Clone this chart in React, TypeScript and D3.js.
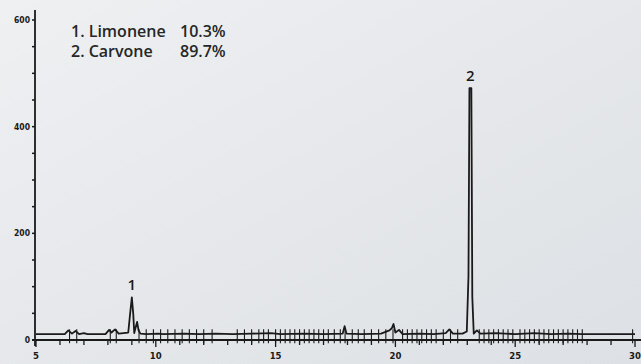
import React from 'react';
import { useRef, useEffect } from 'react';
import * as d3 from 'd3';

// chromatogram trace: [retention time (min), response]
const trace: [number, number][] = [
  [5.0, 11], [5.6, 11], [6.2, 11], [6.35, 18], [6.5, 12], [6.65, 17], [6.8, 11], [7.0, 13], [7.15, 11],
  [7.9, 11], [8.05, 19], [8.15, 14], [8.3, 20], [8.45, 12], [8.65, 13], [8.85, 14], [8.93, 50],
  [9.0, 80], [9.06, 48], [9.1, 13], [9.16, 24], [9.22, 34], [9.28, 18], [9.36, 12], [9.6, 11],
  [10.1, 12], [10.3, 11], [11.2, 12], [11.8, 11], [12.5, 12], [13.2, 11], [14.0, 12], [14.8, 13],
  [15.2, 11], [16.2, 12], [17.0, 11], [17.8, 12], [17.88, 26], [17.96, 12], [18.6, 11], [19.4, 12],
  [19.75, 18], [19.85, 22], [19.92, 30], [20.0, 14], [20.15, 19], [20.3, 11], [21.0, 12], [21.6, 11],
  [22.1, 13], [22.25, 20], [22.4, 12], [22.8, 12], [22.98, 16], [23.05, 120], [23.09, 472],
  [23.17, 472], [23.21, 80], [23.27, 12], [23.4, 18], [23.55, 12], [24.2, 13], [25.0, 11],
  [25.8, 13], [26.5, 11], [27.2, 12], [27.8, 11], [28.5, 11], [29.2, 11], [30.0, 11]
];

// integration marks along the baseline (min)
const marks: number[] = [
  6.4, 6.7, 8.1, 8.35, 9.3, 9.6, 9.9, 10.2, 10.5, 10.8, 11.1, 11.4, 11.7, 12.0, 12.35,
  13.4, 13.7, 14.0, 14.3, 14.5, 14.7, 15.0, 15.2, 15.4, 15.6, 15.8, 16.0, 16.2, 16.4, 16.6,
  16.8, 17.0, 17.2, 17.45, 17.7, 17.9, 18.2, 18.45, 18.7, 19.0, 19.3, 19.6, 19.9, 20.3,
  20.5, 20.7, 20.9, 21.1, 21.3, 21.5, 21.7, 22.0, 22.3, 22.6, 23.5, 23.7, 23.9, 24.1, 24.3,
  24.5, 24.7, 24.9, 25.2, 25.4, 25.6, 25.8, 26.0, 26.2, 26.4, 26.6, 26.8, 27.0, 27.2, 27.4,
  27.6, 27.8, 29.9
];

const peakLabels = [
  { label: '1', time: 9.0, value: 80 },
  { label: '2', time: 23.13, value: 472 }
];

const legend = [
  { name: '1. Limonene', pct: '10.3%' },
  { name: '2. Carvone', pct: '89.7%' }
];

const xTicks = [5, 10, 15, 20, 25, 30];
const yTicks = [0, 200, 400, 600];

export default function App() {
  const svgRef = useRef<SVGSVGElement>(null);

  useEffect(() => {
    const w = 641;
    const h = 364;
    const svg = d3.select(svgRef.current).attr('width', w).attr('height', h);
    svg.selectAll('*').remove();

    // scanned paper background
    const defs = svg.append('defs');
    const grad = defs.append('linearGradient').attr('id', 'paper').attr('x1', 0).attr('y1', 0).attr('x2', 1).attr('y2', 1);
    grad.append('stop').attr('offset', '0%').attr('stop-color', '#eef0f2');
    grad.append('stop').attr('offset', '100%').attr('stop-color', '#dde0e4');
    svg.append('rect').attr('width', w).attr('height', h).attr('fill', 'url(#paper)');

    const x = d3.scaleLinear().domain([5, 30]).range([36, 635]);
    const y = d3.scaleLinear().domain([0, 600]).range([340, 20]);
    const ink = '#1a1a1a';

    // y axis
    svg.append('line').attr('x1', 35).attr('x2', 35).attr('y1', 10).attr('y2', 346)
      .attr('stroke', ink).attr('stroke-width', 1.8);
    const yMinor = d3.range(0, 601, 50);
    svg.selectAll('.ymin').data(yMinor).join('line')
      .attr('x1', 32).attr('x2', 35).attr('y1', (d) => y(d)).attr('y2', (d) => y(d))
      .attr('stroke', ink).attr('stroke-width', 1.5);
    svg.selectAll('.ylab').data(yTicks).join('text')
      .attr('x', 30).attr('y', (d) => y(d) + 3)
      .attr('text-anchor', 'end')
      .style('font-family', 'DejaVu Sans Condensed, sans-serif')
      .style('font-weight', 'bold')
      .style('font-size', '8.5px')
      .attr('fill', ink)
      .text((d) => d);

    // x axis
    svg.append('line').attr('x1', 32).attr('x2', 641).attr('y1', 340).attr('y2', 340)
      .attr('stroke', ink).attr('stroke-width', 1.8);
    const xMinor = d3.range(5, 31, 1);
    svg.selectAll('.xmin').data(xMinor).join('line')
      .attr('x1', (d) => x(d)).attr('x2', (d) => x(d))
      .attr('y1', 340).attr('y2', (d) => (d % 5 === 0 ? 347 : 345))
      .attr('stroke', ink).attr('stroke-width', 1.3);
    svg.selectAll('.xlab').data(xTicks).join('text')
      .attr('x', (d) => x(d)).attr('y', 359)
      .attr('text-anchor', 'middle')
      .style('font-family', 'DejaVu Sans Condensed, sans-serif')
      .style('font-weight', 'bold')
      .style('font-size', '9.5px')
      .attr('fill', ink)
      .text((d) => d);

    // integration marks
    svg.selectAll('.mark').data(marks).join('line')
      .attr('x1', (d) => x(d)).attr('x2', (d) => x(d))
      .attr('y1', y(20)).attr('y2', y(-6))
      .attr('stroke', ink).attr('stroke-width', 1.1);

    // trace
    const line = d3.line<[number, number]>().x((d) => x(d[0])).y((d) => y(d[1]));
    svg.append('path').datum(trace).attr('d', line)
      .attr('fill', 'none').attr('stroke', ink).attr('stroke-width', 1.8)
      .attr('stroke-linejoin', 'round');

    // peak labels
    svg.selectAll('.plab').data(peakLabels).join('text')
      .attr('x', (d) => x(d.time)).attr('y', (d) => y(d.value) - 7)
      .attr('text-anchor', 'middle')
      .style('font-family', 'Open Sans, sans-serif')
      .style('font-weight', 600)
      .style('font-size', '15px')
      .attr('fill', ink)
      .text((d) => d.label);

    // legend
    const lg = svg.selectAll('.lg').data(legend).join('g')
      .attr('transform', (d, i) => `translate(71, ${37 + i * 20})`);
    lg.append('text').attr('x', 0)
      .style('font-family', 'Open Sans, sans-serif').style('font-weight', 600).style('font-size', '16px')
      .attr('fill', '#262626').text((d) => d.name);
    lg.append('text').attr('x', 109)
      .style('font-family', 'Open Sans, sans-serif').style('font-weight', 600).style('font-size', '16px')
      .attr('fill', '#262626').text((d) => d.pct);
  }, []);

  return (
    <div style={{ position: 'absolute', left: 0, top: 0 }}>
      <svg ref={svgRef} style={{ display: 'block' }}></svg>
    </div>
  );
}
